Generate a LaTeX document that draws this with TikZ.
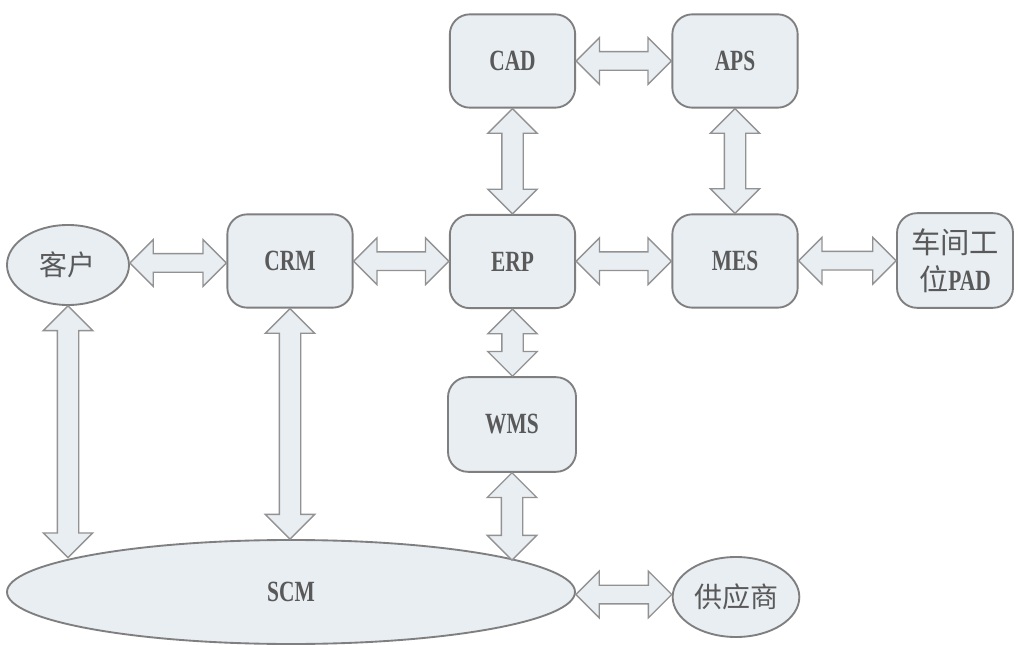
\documentclass[tikz,border=0pt]{standalone}
\usepackage{fontspec}
\usepackage{graphicx}
\setmainfont{Liberation Serif}
\newfontfamily\cjk{Noto Sans CJK SC}
\usetikzlibrary{shapes.geometric,calc}
\definecolor{boxfill}{HTML}{E9EEF3}
\definecolor{boxline}{HTML}{7F7F7F}
\definecolor{txt}{HTML}{595959}
% condensed Latin labels
\newcommand\lat[1]{\scalebox{0.73}[1]{\bfseries #1}}
\tikzset{
  sys/.style={draw=boxline, line width=1.4pt, fill=boxfill, rounded corners=15pt,
    minimum width=94pt, minimum height=70pt, inner sep=0pt, text=txt,
    font=\fontsize{22}{28}\selectfont, align=center},
  party/.style={ellipse, draw=boxline, line width=1.4pt, fill=boxfill, inner sep=0pt,
    text=txt, font=\cjk\fontsize{21}{26}\selectfont},
  link/.style={draw=boxline!85, line width=1pt, fill=boxfill, line join=miter},
}
% hollow double-headed arrow between two horizontal anchors
\newcommand\harrow[2]{\path[link] let \p1=(#1), \p2=(#2), \p3=($(#1)!.5!(#2)$) in
  (\x1,\y3) -- ({\x1+17.5pt},{\y3+17.5pt}) -- ({\x1+17.5pt},{\y3+7pt})
  -- ({\x2-17.5pt},{\y3+7pt}) -- ({\x2-17.5pt},{\y3+17.5pt}) -- (\x2,\y3)
  -- ({\x2-17.5pt},{\y3-17.5pt}) -- ({\x2-17.5pt},{\y3-7pt})
  -- ({\x1+17.5pt},{\y3-7pt}) -- ({\x1+17.5pt},{\y3-17.5pt}) -- cycle;}
% hollow double-headed arrow going down from the first anchor to the second
\newcommand\varrow[2]{\path[link] let \p1=(#1), \p2=(#2) in
  (\x1,\y1) -- ({\x1+18.5pt},{\y1-18.5pt}) -- ({\x1+8pt},{\y1-18.5pt})
  -- ({\x1+8pt},{\y2+18.5pt}) -- ({\x1+18.5pt},{\y2+18.5pt}) -- (\x1,\y2)
  -- ({\x1-18.5pt},{\y2+18.5pt}) -- ({\x1-8pt},{\y2+18.5pt})
  -- ({\x1-8pt},{\y1-18.5pt}) -- ({\x1-18.5pt},{\y1-18.5pt}) -- cycle;}
\begin{document}
\begin{tikzpicture}[x=0.75pt,y=-0.75pt]
\fill[white] (0,0) rectangle (1018,645);
\useasboundingbox (0,0) rectangle (1018,645);

% systems
\node[sys] (cad) at (512.5,61) {\lat{CAD}};
\node[sys] (aps) at (735,61) {\lat{APS}};
\node[sys] (crm) at (290,261) {\lat{CRM}};
\node[sys] (erp) at (512.5,261.5) {\lat{ERP}};
\node[sys] (mes) at (735,261) {\lat{MES}};
\node[sys, minimum width=87pt, minimum height=71pt] (pad) at (955,260.5)
  {{\cjk 车间工}\\{\cjk 位}\lat{PAD}};
\node[sys, minimum width=96pt, minimum height=71pt] (wms) at (512,424.5) {\lat{WMS}};

% external parties
\node[party, minimum width=91.5pt, minimum height=60pt] (kehu) at (68,265) {客户};
\node[party, minimum width=426pt, minimum height=78pt, font=\fontsize{22}{28}\selectfont]
  (scm) at (291,592) {\lat{SCM}};
\node[party, minimum width=95pt, minimum height=60pt] (gys) at (736,597) {供应商};

% links
\harrow{cad.east}{aps.west}
\varrow{cad.south}{erp.north}
\varrow{aps.south}{mes.north}
\harrow{kehu.east}{crm.west}
\harrow{crm.east}{erp.west}
\harrow{erp.east}{mes.west}
\harrow{mes.east}{pad.west}
\varrow{erp.south}{wms.north}
\varrow{wms.south}{scm.8.2}
\varrow{kehu.south}{scm.171.8}
\varrow{crm.south}{scm.north}
\harrow{scm.east}{gys.west}
\end{tikzpicture}
\end{document}
